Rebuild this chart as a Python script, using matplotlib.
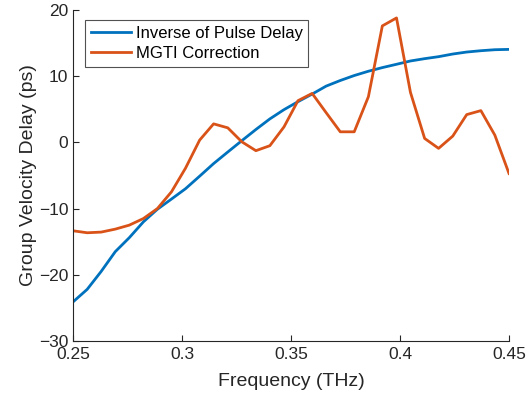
import matplotlib.pyplot as plt

plt.rcParams['font.family'] = ['Liberation Sans', 'DejaVu Sans']

# Frequency samples (THz)
freq = [0.2500, 0.2565, 0.2629, 0.2694, 0.2758, 0.2823, 0.2887, 0.2952,
        0.3016, 0.3081, 0.3145, 0.3210, 0.3274, 0.3339, 0.3403, 0.3468,
        0.3532, 0.3597, 0.3661, 0.3726, 0.3790, 0.3855, 0.3919, 0.3984,
        0.4048, 0.4113, 0.4177, 0.4242, 0.4306, 0.4371, 0.4435, 0.4500]

# Inverse of pulse delay (ps)
inversePulse = [-24.1, -22.2, -19.5, -16.5, -14.4, -12.0, -10.1, -8.55,
                -7.0, -5.1, -3.2, -1.45, 0.25, 1.95, 3.55, 4.95,
                6.15, 7.3, 8.5, 9.35, 10.1, 10.75, 11.3, 11.8,
                12.3, 12.65, 12.95, 13.35, 13.65, 13.85, 14.0, 14.05]

# MGTI correction (ps)
mgti = [-13.35, -13.65, -13.55, -13.1, -12.5, -11.5, -10.0, -7.45,
        -3.9, 0.35, 2.8, 2.2, 0.1, -1.25, -0.5, 2.35,
        6.3, 7.4, 4.5, 1.6, 1.6, 6.9, 17.6, 18.8,
        7.55, 0.6, -0.9, 0.95, 4.2, 4.8, 1.1, -4.7]

xTicks = [0.25, 0.3, 0.35, 0.4, 0.45]
xTickLabels = ['0.25', '0.3', '0.35', '0.4', '0.45']
yTicks = [-30, -20, -10, 0, 10, 20]

axisColor = '#262626'

fig = plt.figure(figsize=(5.31, 4.07), dpi=100)
ax = fig.add_axes([73/531, 1-341/407, 436/531, 331/407])

ax.plot(freq, inversePulse, color='#0072BD', linewidth=2, label='Inverse of Pulse Delay')
ax.plot(freq, mgti, color='#D95319', linewidth=2, label='MGTI Correction')

ax.set_xlim(0.25, 0.45)
ax.set_ylim(-30, 20)
ax.set_xticks(xTicks)
ax.set_xticklabels(xTickLabels)
ax.set_yticks(yTicks)

ax.spines['top'].set_visible(False)
ax.spines['right'].set_visible(False)
for s in ['left', 'bottom']:
    ax.spines[s].set_color(axisColor)
    ax.spines[s].set_linewidth(0.8)
ax.tick_params(direction='in', length=4, width=0.8, colors=axisColor,
               labelsize=12.5)
ax.tick_params(axis='y', pad=3.5)
ax.tick_params(axis='x', pad=4)

ax.set_xlabel('Frequency (THz)', fontsize=14, color=axisColor, labelpad=8)
ax.set_ylabel('Group Velocity Delay (ps)', fontsize=14, color=axisColor, labelpad=1)

leg = ax.legend(loc='upper left', bbox_to_anchor=(0.027, 0.97), fontsize=12,
                frameon=True, fancybox=False, handlelength=2.4, handletextpad=0.3,
                borderpad=0.35, labelspacing=0.3, borderaxespad=0)
leg.get_frame().set_edgecolor(axisColor)
leg.get_frame().set_linewidth(0.8)
for t in leg.get_texts():
    t.set_color('black')

plt.savefig('out.png', dpi=100)
